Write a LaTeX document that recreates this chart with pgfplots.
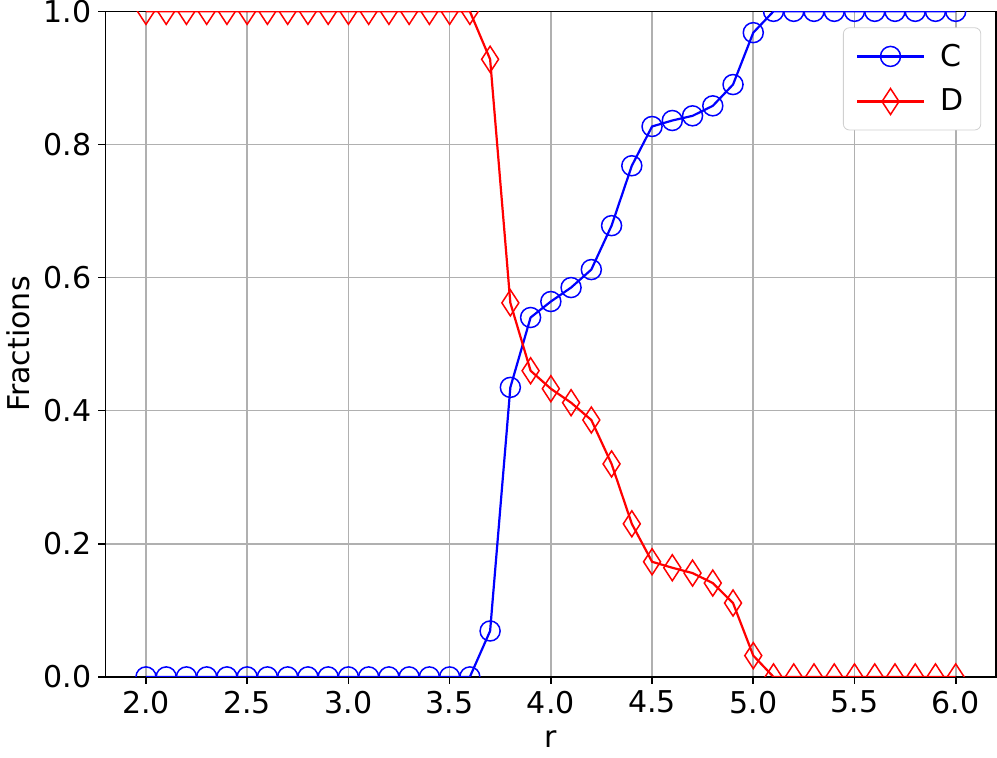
\documentclass[border=0pt]{standalone}
\usepackage{fontspec}
\setmainfont{DejaVu Sans}
\usepackage{pgfplots}
\pgfplotsset{compat=1.18}
\definecolor{gridgray}{RGB}{176,176,176}
\definecolor{mplblue}{RGB}{0,0,255}
\definecolor{mplred}{RGB}{255,0,0}
\begin{document}
\begin{tikzpicture}
\begin{axis}[
  scale only axis, width=445pt, height=332.5pt,
  xmin=1.8, xmax=6.2, ymin=0, ymax=1,
  xtick={2.0,2.5,3.0,3.5,4.0,4.5,5.0,5.5,6.0},
  ytick={0.0,0.2,0.4,0.6,0.8,1.0},
  /pgf/number format/fixed,
  /pgf/number format/fixed zerofill,
  /pgf/number format/precision=1,
  /pgf/number format/assume math mode=true,
  font=\fontsize{15}{18}\selectfont,
  tick label style={font=\fontsize{15}{18}\selectfont},
  yticklabel style={inner ysep=0pt},
  xlabel={r}, ylabel={Fractions},
  xlabel style={inner ysep=5pt},
  grid=major, grid style={gridgray, line width=0.8pt},
  axis line style={line width=0.8pt},
  tick style={black, line width=0.8pt},
  major tick length=3.5pt, tick align=outside,
  xtick pos=bottom, ytick pos=left,
  clip marker paths=true,
  legend style={at={(1,1)}, anchor=north east, xshift=-7.5pt, yshift=-8pt,
    draw=gridgray!60, rounded corners=3pt, font=\fontsize{15}{18}\selectfont,
    row sep=6pt, column sep=6pt, inner xsep=6.5pt, inner ysep=6pt},
  legend cell align=left,
  legend image code/.code={\draw[mark repeat=2,mark phase=2] plot coordinates {(0pt,0pt)(16.5pt,0pt)(33pt,0pt)};},
]
\addplot[mplblue, line width=1.1pt, mark=o, mark size=5pt, mark options={line width=0.75pt, solid}] coordinates {
(2.0,0) (2.1,0) (2.2,0) (2.3,0) (2.4,0) (2.5,0) (2.6,0) (2.7,0) (2.8,0) (2.9,0)
(3.0,0) (3.1,0) (3.2,0) (3.3,0) (3.4,0) (3.5,0) (3.6,0)
(3.7,0.069) (3.8,0.435) (3.9,0.540) (4.0,0.564) (4.1,0.585) (4.2,0.612)
(4.3,0.678) (4.4,0.768) (4.5,0.827) (4.6,0.836) (4.7,0.843) (4.8,0.858)
(4.9,0.890) (5.0,0.968)
(5.1,1) (5.2,1) (5.3,1) (5.4,1) (5.5,1) (5.6,1) (5.7,1) (5.8,1) (5.9,1) (6.0,1)
};
\addlegendentry{C}
\addplot[mplred, line width=1.1pt, mark=diamond, mark size=6.5pt, mark options={line width=0.75pt, solid, xscale=0.87}] coordinates {
(2.0,1) (2.1,1) (2.2,1) (2.3,1) (2.4,1) (2.5,1) (2.6,1) (2.7,1) (2.8,1) (2.9,1)
(3.0,1) (3.1,1) (3.2,1) (3.3,1) (3.4,1) (3.5,1) (3.6,1)
(3.7,0.928) (3.8,0.562) (3.9,0.460) (4.0,0.433) (4.1,0.412) (4.2,0.386)
(4.3,0.320) (4.4,0.230) (4.5,0.173) (4.6,0.164) (4.7,0.156) (4.8,0.141)
(4.9,0.111) (5.0,0.032)
(5.1,0) (5.2,0) (5.3,0) (5.4,0) (5.5,0) (5.6,0) (5.7,0) (5.8,0) (5.9,0) (6.0,0)
};
\addlegendentry{D}
\end{axis}
\end{tikzpicture}
\end{document}
